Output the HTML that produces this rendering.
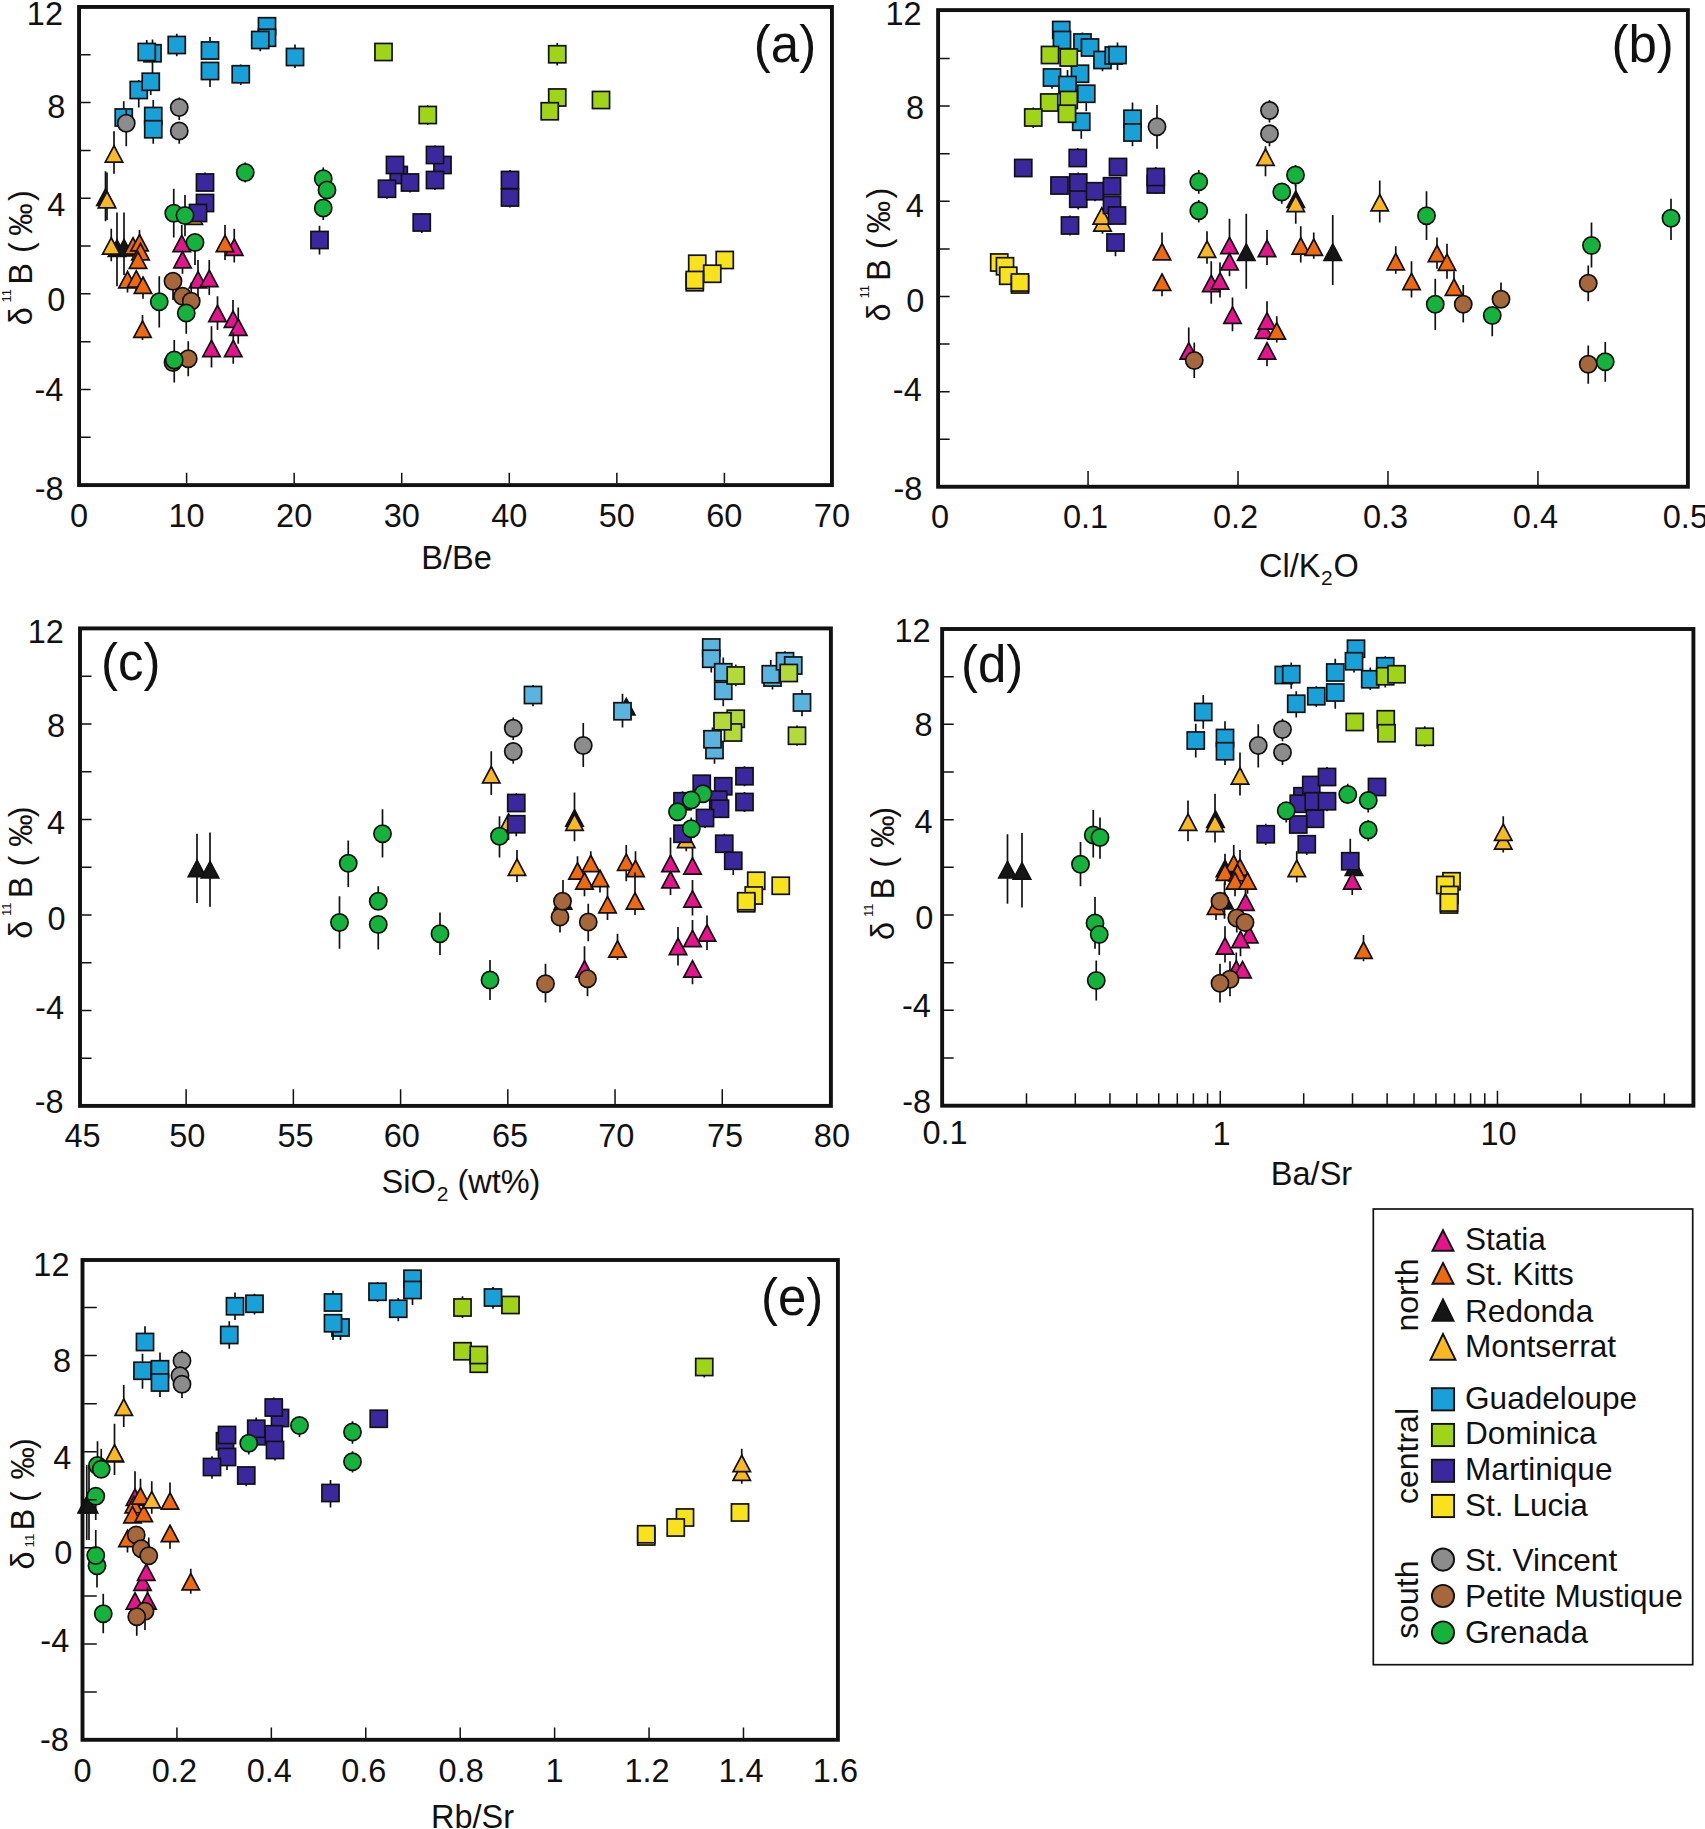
<!DOCTYPE html>
<html lang="en"><head><meta charset="utf-8"><title>Boron isotopes, Lesser Antilles</title>
<style>html,body{margin:0;padding:0;background:#fff}body{width:1705px;height:1829px;overflow:hidden}svg{display:block}text{font-family:"Liberation Sans",Arial,Helvetica,sans-serif;fill:#111}</style></head><body>
<svg width="1705" height="1829" viewBox="0 0 1705 1829">
<rect width="1705" height="1829" fill="#fff"/>
<g id="panel-a">
<g stroke="#111" stroke-width="1.7" stroke-linejoin="miter">
<path d="M105.5 171.25V221.25" stroke-width="1.7"/>
<path d="M105.5 189L114.2 205.35L96.8 205.35Z" fill="#161616"/>
<path d="M117 212.5V286.25" stroke-width="1.7"/>
<path d="M117 240L125.7 256.35L108.3 256.35Z" fill="#161616"/>
<path d="M124 212.5V275" stroke-width="1.7"/>
<path d="M124 239.5L132.7 255.85L115.3 255.85Z" fill="#161616"/>
<path d="M181.75 225V243.75" stroke-width="1.7"/>
<path d="M181.75 235.25L190.45 251.6L173.05 251.6Z" fill="#e5148c"/>
<path d="M182.5 260V273.75" stroke-width="1.7"/>
<path d="M182.5 251.5L191.2 267.85L173.8 267.85Z" fill="#e5148c"/>
<path d="M198 260V297.5" stroke-width="1.7"/>
<path d="M198 271.5L206.7 287.85L189.3 287.85Z" fill="#e5148c"/>
<path d="M209.25 260V295" stroke-width="1.7"/>
<path d="M209.25 270.25L217.95 286.6L200.55 286.6Z" fill="#e5148c"/>
<path d="M217.5 296.25V330" stroke-width="1.7"/>
<path d="M217.5 305.25L226.2 321.6L208.8 321.6Z" fill="#e5148c"/>
<path d="M233 300V319.5" stroke-width="1.7"/>
<path d="M233 311L241.7 327.35L224.3 327.35Z" fill="#e5148c"/>
<path d="M238.25 307.5V343.75" stroke-width="1.7"/>
<path d="M238.25 319L246.95 335.35L229.55 335.35Z" fill="#e5148c"/>
<path d="M211.5 326.25V367.5" stroke-width="1.7"/>
<path d="M211.5 340.25L220.2 356.6L202.8 356.6Z" fill="#e5148c"/>
<path d="M233.25 332.5V363.75" stroke-width="1.7"/>
<path d="M233.25 340.25L241.95 356.6L224.55 356.6Z" fill="#e5148c"/>
<path d="M234.25 228.75V262.5" stroke-width="1.7"/>
<path d="M234.25 239L242.95 255.35L225.55 255.35Z" fill="#e5148c"/>
<path d="M133 237.75L141.7 254.1L124.3 254.1Z" fill="#f0690f"/>
<path d="M139.5 230V243" stroke-width="1.7"/>
<path d="M139.5 234.5L148.2 250.85L130.8 250.85Z" fill="#f0690f"/>
<path d="M140.5 243.5L149.2 259.85L131.8 259.85Z" fill="#f0690f"/>
<path d="M138 252L146.7 268.35L129.3 268.35Z" fill="#f0690f"/>
<path d="M127.5 280V292.5" stroke-width="1.7"/>
<path d="M127.5 271.5L136.2 287.85L118.8 287.85Z" fill="#f0690f"/>
<path d="M136.25 279.25V292.5" stroke-width="1.7"/>
<path d="M136.25 270.75L144.95 287.1L127.55 287.1Z" fill="#f0690f"/>
<path d="M143 285.5V298.75" stroke-width="1.7"/>
<path d="M143 277L151.7 293.35L134.3 293.35Z" fill="#f0690f"/>
<path d="M142.5 315V340" stroke-width="1.7"/>
<path d="M142.5 321L151.2 337.35L133.8 337.35Z" fill="#f0690f"/>
<path d="M225 225V260" stroke-width="1.7"/>
<path d="M225 235.25L233.7 251.6L216.3 251.6Z" fill="#f0690f"/>
<path d="M114 131.25V173.75" stroke-width="1.7"/>
<path d="M114 145.75L122.7 162.1L105.3 162.1Z" fill="#fbb822"/>
<path d="M107 172.5V220" stroke-width="1.7"/>
<path d="M107 191.5L115.7 207.85L98.3 207.85Z" fill="#fbb822"/>
<path d="M111.25 228.75V261.25" stroke-width="1.7"/>
<path d="M111.25 237.75L119.95 254.1L102.55 254.1Z" fill="#fbb822"/>
<path d="M193.75 208L202.45 224.35L185.05 224.35Z" fill="#fbb822"/>
<rect x="688.7" y="255.2" width="17.1" height="17.1" fill="#f8e21c"/>
<rect x="716.2" y="251.45" width="17.1" height="17.1" fill="#f8e21c"/>
<rect x="703.7" y="265.2" width="17.1" height="17.1" fill="#f8e21c"/>
<rect x="686.2" y="273.7" width="17.1" height="17.1" fill="#f8e21c"/>
<rect x="686.2" y="271.45" width="17.1" height="17.1" fill="#f8e21c"/>
<rect x="258.45" y="17.7" width="17.1" height="17.1" fill="#18a0d8"/>
<rect x="258.45" y="29.2" width="17.1" height="17.1" fill="#18a0d8"/>
<path d="M260.25 40V51.25" stroke-width="1.7"/>
<rect x="251.7" y="31.45" width="17.1" height="17.1" fill="#18a0d8"/>
<path d="M152.5 39.5V75" stroke-width="1.7"/>
<rect x="143.95" y="44.7" width="17.1" height="17.1" fill="#18a0d8"/>
<path d="M146.75 40V52" stroke-width="1.7"/>
<rect x="138.2" y="43.45" width="17.1" height="17.1" fill="#18a0d8"/>
<path d="M176.75 33.75V56.25" stroke-width="1.7"/>
<rect x="168.2" y="36.45" width="17.1" height="17.1" fill="#18a0d8"/>
<path d="M210 37V50.5" stroke-width="1.7"/>
<rect x="201.45" y="41.95" width="17.1" height="17.1" fill="#18a0d8"/>
<path d="M210 71V87" stroke-width="1.7"/>
<rect x="201.45" y="62.45" width="17.1" height="17.1" fill="#18a0d8"/>
<path d="M240.75 64.5V85" stroke-width="1.7"/>
<rect x="232.2" y="65.7" width="17.1" height="17.1" fill="#18a0d8"/>
<path d="M295 44.5V68" stroke-width="1.7"/>
<rect x="286.45" y="48.45" width="17.1" height="17.1" fill="#18a0d8"/>
<path d="M138.75 80V107.5" stroke-width="1.7"/>
<rect x="130.2" y="81.45" width="17.1" height="17.1" fill="#18a0d8"/>
<path d="M150.75 81.75V95" stroke-width="1.7"/>
<rect x="142.2" y="73.2" width="17.1" height="17.1" fill="#18a0d8"/>
<path d="M123.75 101.25V130" stroke-width="1.7"/>
<rect x="115.2" y="108.95" width="17.1" height="17.1" fill="#18a0d8"/>
<path d="M153.25 100V116" stroke-width="1.7"/>
<rect x="144.7" y="107.45" width="17.1" height="17.1" fill="#18a0d8"/>
<path d="M153.25 129.25V143.75" stroke-width="1.7"/>
<rect x="144.7" y="120.7" width="17.1" height="17.1" fill="#18a0d8"/>
<rect x="374.95" y="43.45" width="17.1" height="17.1" fill="#a0d416"/>
<path d="M427.75 105V125" stroke-width="1.7"/>
<rect x="419.2" y="106.45" width="17.1" height="17.1" fill="#a0d416"/>
<path d="M557.25 43V65.5" stroke-width="1.7"/>
<rect x="548.7" y="45.7" width="17.1" height="17.1" fill="#a0d416"/>
<rect x="548.7" y="88.95" width="17.1" height="17.1" fill="#a0d416"/>
<rect x="541.2" y="102.7" width="17.1" height="17.1" fill="#a0d416"/>
<rect x="592.45" y="91.45" width="17.1" height="17.1" fill="#a0d416"/>
<path d="M205 172.5V182.5" stroke-width="1.7"/>
<rect x="196.45" y="173.95" width="17.1" height="17.1" fill="#3c289e"/>
<rect x="196.45" y="194.45" width="17.1" height="17.1" fill="#3c289e"/>
<rect x="189.45" y="204.45" width="17.1" height="17.1" fill="#3c289e"/>
<path d="M319.5 225.75V254.5" stroke-width="1.7"/>
<rect x="310.95" y="231.45" width="17.1" height="17.1" fill="#3c289e"/>
<rect x="390.2" y="166.45" width="17.1" height="17.1" fill="#3c289e"/>
<rect x="386.45" y="156.45" width="17.1" height="17.1" fill="#3c289e"/>
<path d="M410 182.5V192.5" stroke-width="1.7"/>
<rect x="401.45" y="173.95" width="17.1" height="17.1" fill="#3c289e"/>
<path d="M387 188.75V198.75" stroke-width="1.7"/>
<rect x="378.45" y="180.2" width="17.1" height="17.1" fill="#3c289e"/>
<rect x="433.95" y="156.45" width="17.1" height="17.1" fill="#3c289e"/>
<path d="M435 145.5V155" stroke-width="1.7"/>
<rect x="426.45" y="146.45" width="17.1" height="17.1" fill="#3c289e"/>
<path d="M435 180V190" stroke-width="1.7"/>
<rect x="426.45" y="171.45" width="17.1" height="17.1" fill="#3c289e"/>
<path d="M421.75 213V233" stroke-width="1.7"/>
<rect x="413.2" y="213.95" width="17.1" height="17.1" fill="#3c289e"/>
<path d="M510 170V180" stroke-width="1.7"/>
<rect x="501.45" y="171.45" width="17.1" height="17.1" fill="#3c289e"/>
<path d="M510 197.5V207.5" stroke-width="1.7"/>
<rect x="501.45" y="188.95" width="17.1" height="17.1" fill="#3c289e"/>
<path d="M179.25 97.5V120" stroke-width="1.7"/>
<circle cx="179.25" cy="107.5" r="8.6" fill="#8c8c8c"/>
<path d="M179.25 131V143.75" stroke-width="1.7"/>
<circle cx="179.25" cy="131" r="8.6" fill="#8c8c8c"/>
<path d="M126.25 110V146.25" stroke-width="1.7"/>
<circle cx="126.25" cy="123.25" r="8.6" fill="#8c8c8c"/>
<path d="M173 281.25V300" stroke-width="1.7"/>
<circle cx="173" cy="281.25" r="8.6" fill="#a6683a"/>
<circle cx="182.5" cy="296.25" r="8.6" fill="#a6683a"/>
<path d="M191.25 282.5V301.25" stroke-width="1.7"/>
<circle cx="191.25" cy="301.25" r="8.6" fill="#a6683a"/>
<circle cx="173" cy="362.5" r="8.6" fill="#a6683a"/>
<path d="M188.25 341.25V376.25" stroke-width="1.7"/>
<circle cx="188.25" cy="358.75" r="8.6" fill="#a6683a"/>
<path d="M245.25 162.5V182.5" stroke-width="1.7"/>
<circle cx="245.25" cy="172.5" r="8.6" fill="#14b43c"/>
<path d="M323.25 167.5V178.75" stroke-width="1.7"/>
<circle cx="323.25" cy="178.75" r="8.6" fill="#14b43c"/>
<circle cx="327" cy="190" r="8.6" fill="#14b43c"/>
<path d="M323.25 208V220" stroke-width="1.7"/>
<circle cx="323.25" cy="208" r="8.6" fill="#14b43c"/>
<path d="M173.75 188.75V237.5" stroke-width="1.7"/>
<circle cx="173.75" cy="213.25" r="8.6" fill="#14b43c"/>
<path d="M185 195V236.25" stroke-width="1.7"/>
<circle cx="185" cy="215.5" r="8.6" fill="#14b43c"/>
<path d="M195 242.5V265" stroke-width="1.7"/>
<circle cx="195" cy="242.5" r="8.6" fill="#14b43c"/>
<path d="M159.25 276.25V327.5" stroke-width="1.7"/>
<circle cx="159.25" cy="301.75" r="8.6" fill="#14b43c"/>
<path d="M186.25 313V333.75" stroke-width="1.7"/>
<circle cx="186.25" cy="313" r="8.6" fill="#14b43c"/>
<path d="M174.25 340V382.5" stroke-width="1.7"/>
<circle cx="174.25" cy="360" r="8.6" fill="#14b43c"/>
</g>
<path fill="none" stroke="#111" stroke-width="1.5" d="M80.7 54.77h9.9M80.7 102.58h9.9M80.7 150.4h9.9M80.7 198.21h9.9M80.7 246.03h9.9M80.7 293.84h9.9M80.7 341.66h9.9M80.7 389.47h9.9M80.7 437.29h9.9M186.61 483.45v-10.6M294.16 483.45v-10.6M401.72 483.45v-10.6M509.28 483.45v-10.6M616.84 483.45v-10.6M724.39 483.45v-10.6"/>
<rect x="79.05" y="6.95" width="752.9" height="478.15" fill="none" stroke="#111" stroke-width="3.9"/>
</g>
<g id="panel-b">
<g stroke="#111" stroke-width="1.7" stroke-linejoin="miter">
<path d="M1295.75 185V199.5" stroke-width="1.7"/>
<path d="M1295.75 191L1304.45 207.35L1287.05 207.35Z" fill="#161616"/>
<path d="M1246.25 213.75V288.75" stroke-width="1.7"/>
<path d="M1246.25 244L1254.95 260.35L1237.55 260.35Z" fill="#161616"/>
<path d="M1332.75 215V285" stroke-width="1.7"/>
<path d="M1332.75 244L1341.45 260.35L1324.05 260.35Z" fill="#161616"/>
<path d="M1229.5 218.75V245.75" stroke-width="1.7"/>
<path d="M1229.5 237.25L1238.2 253.6L1220.8 253.6Z" fill="#e5148c"/>
<path d="M1229.5 262V276.25" stroke-width="1.7"/>
<path d="M1229.5 253.5L1238.2 269.85L1220.8 269.85Z" fill="#e5148c"/>
<path d="M1211.25 261.25V303.75" stroke-width="1.7"/>
<path d="M1211.25 275.25L1219.95 291.6L1202.55 291.6Z" fill="#e5148c"/>
<path d="M1220 262.5V297.5" stroke-width="1.7"/>
<path d="M1220 272.75L1228.7 289.1L1211.3 289.1Z" fill="#e5148c"/>
<path d="M1232.5 297.5V331.25" stroke-width="1.7"/>
<path d="M1232.5 307L1241.2 323.35L1223.8 323.35Z" fill="#e5148c"/>
<path d="M1267 230V265" stroke-width="1.7"/>
<path d="M1267 240.25L1275.7 256.6L1258.3 256.6Z" fill="#e5148c"/>
<path d="M1263.75 322L1272.45 338.35L1255.05 338.35Z" fill="#e5148c"/>
<path d="M1267 301.25V321.25" stroke-width="1.7"/>
<path d="M1267 312.75L1275.7 329.1L1258.3 329.1Z" fill="#e5148c"/>
<path d="M1267 351.25V366.25" stroke-width="1.7"/>
<path d="M1267 342.75L1275.7 359.1L1258.3 359.1Z" fill="#e5148c"/>
<path d="M1188.75 327.5V351.25" stroke-width="1.7"/>
<path d="M1188.75 342.75L1197.45 359.1L1180.05 359.1Z" fill="#e5148c"/>
<path d="M1162 232.5V252" stroke-width="1.7"/>
<path d="M1162 243.5L1170.7 259.85L1153.3 259.85Z" fill="#f0690f"/>
<path d="M1162 282.5V296.25" stroke-width="1.7"/>
<path d="M1162 274L1170.7 290.35L1153.3 290.35Z" fill="#f0690f"/>
<path d="M1300.75 226.25V262.5" stroke-width="1.7"/>
<path d="M1300.75 237.75L1309.45 254.1L1292.05 254.1Z" fill="#f0690f"/>
<path d="M1313.75 232.5V258.75" stroke-width="1.7"/>
<path d="M1313.75 239L1322.45 255.35L1305.05 255.35Z" fill="#f0690f"/>
<path d="M1276.75 316.25V342.5" stroke-width="1.7"/>
<path d="M1276.75 322.75L1285.45 339.1L1268.05 339.1Z" fill="#f0690f"/>
<path d="M1395.75 246.25V273.75" stroke-width="1.7"/>
<path d="M1395.75 253.5L1404.45 269.85L1387.05 269.85Z" fill="#f0690f"/>
<path d="M1411.5 261.25V297.5" stroke-width="1.7"/>
<path d="M1411.5 273.25L1420.2 289.6L1402.8 289.6Z" fill="#f0690f"/>
<path d="M1437 237.5V268.75" stroke-width="1.7"/>
<path d="M1437 245.25L1445.7 261.6L1428.3 261.6Z" fill="#f0690f"/>
<path d="M1447 243.75V278.75" stroke-width="1.7"/>
<path d="M1447 254L1455.7 270.35L1438.3 270.35Z" fill="#f0690f"/>
<path d="M1454 271.25V287.5" stroke-width="1.7"/>
<path d="M1454 279L1462.7 295.35L1445.3 295.35Z" fill="#f0690f"/>
<path d="M1102.5 223.25V233.75" stroke-width="1.7"/>
<path d="M1102.5 214.75L1111.2 231.1L1093.8 231.1Z" fill="#fbb822"/>
<path d="M1101.75 207.75L1110.45 224.1L1093.05 224.1Z" fill="#fbb822"/>
<path d="M1207 231.25V263.75" stroke-width="1.7"/>
<path d="M1207 241L1215.7 257.35L1198.3 257.35Z" fill="#fbb822"/>
<path d="M1265.5 146.25V176.25" stroke-width="1.7"/>
<path d="M1265.5 149L1274.2 165.35L1256.8 165.35Z" fill="#fbb822"/>
<path d="M1295.75 203.75V223.75" stroke-width="1.7"/>
<path d="M1295.75 195.25L1304.45 211.6L1287.05 211.6Z" fill="#fbb822"/>
<path d="M1379.75 180.5V222.5" stroke-width="1.7"/>
<path d="M1379.75 194.5L1388.45 210.85L1371.05 210.85Z" fill="#fbb822"/>
<rect x="990.7" y="253.95" width="17.1" height="17.1" fill="#f8e21c"/>
<rect x="996.45" y="257.7" width="17.1" height="17.1" fill="#f8e21c"/>
<rect x="999.7" y="267.2" width="17.1" height="17.1" fill="#f8e21c"/>
<rect x="1011.45" y="275.95" width="17.1" height="17.1" fill="#f8e21c"/>
<rect x="1011.45" y="273.95" width="17.1" height="17.1" fill="#f8e21c"/>
<rect x="1052.7" y="21.45" width="17.1" height="17.1" fill="#18a0d8"/>
<rect x="1053.45" y="31.45" width="17.1" height="17.1" fill="#18a0d8"/>
<path d="M1082.5 32.5V42.5" stroke-width="1.7"/>
<rect x="1073.95" y="33.95" width="17.1" height="17.1" fill="#18a0d8"/>
<rect x="1081.45" y="38.95" width="17.1" height="17.1" fill="#18a0d8"/>
<path d="M1102.5 60V71.25" stroke-width="1.7"/>
<rect x="1093.95" y="51.45" width="17.1" height="17.1" fill="#18a0d8"/>
<rect x="1105.2" y="46.95" width="17.1" height="17.1" fill="#18a0d8"/>
<path d="M1117.5 42.5V70" stroke-width="1.7"/>
<rect x="1108.95" y="46.45" width="17.1" height="17.1" fill="#18a0d8"/>
<path d="M1052 77.5V88.75" stroke-width="1.7"/>
<rect x="1043.45" y="68.95" width="17.1" height="17.1" fill="#18a0d8"/>
<rect x="1071.45" y="65.2" width="17.1" height="17.1" fill="#18a0d8"/>
<path d="M1067.5 70V85" stroke-width="1.7"/>
<rect x="1058.95" y="76.45" width="17.1" height="17.1" fill="#18a0d8"/>
<path d="M1086.25 93.75V111.25" stroke-width="1.7"/>
<rect x="1077.7" y="85.2" width="17.1" height="17.1" fill="#18a0d8"/>
<path d="M1081.25 121.75V138.75" stroke-width="1.7"/>
<rect x="1072.7" y="113.2" width="17.1" height="17.1" fill="#18a0d8"/>
<path d="M1132.5 102.5V118.75" stroke-width="1.7"/>
<rect x="1123.95" y="110.2" width="17.1" height="17.1" fill="#18a0d8"/>
<path d="M1132.5 132.5V146.25" stroke-width="1.7"/>
<rect x="1123.95" y="123.95" width="17.1" height="17.1" fill="#18a0d8"/>
<rect x="1041.45" y="46.45" width="17.1" height="17.1" fill="#a0d416"/>
<rect x="1060.2" y="48.95" width="17.1" height="17.1" fill="#a0d416"/>
<rect x="1040.7" y="93.95" width="17.1" height="17.1" fill="#a0d416"/>
<rect x="1060.2" y="91.45" width="17.1" height="17.1" fill="#a0d416"/>
<rect x="1058.45" y="105.2" width="17.1" height="17.1" fill="#a0d416"/>
<path d="M1033.25 107.5V128" stroke-width="1.7"/>
<rect x="1024.7" y="108.95" width="17.1" height="17.1" fill="#a0d416"/>
<rect x="1014.7" y="159.45" width="17.1" height="17.1" fill="#3c289e"/>
<path d="M1077.75 148V158" stroke-width="1.7"/>
<rect x="1069.2" y="149.45" width="17.1" height="17.1" fill="#3c289e"/>
<rect x="1109.45" y="158.45" width="17.1" height="17.1" fill="#3c289e"/>
<rect x="1050.95" y="176.95" width="17.1" height="17.1" fill="#3c289e"/>
<path d="M1078.25 198.75V209.5" stroke-width="1.7"/>
<rect x="1069.7" y="190.2" width="17.1" height="17.1" fill="#3c289e"/>
<path d="M1078.25 172.5V182.5" stroke-width="1.7"/>
<rect x="1069.7" y="173.95" width="17.1" height="17.1" fill="#3c289e"/>
<path d="M1095 191.25V201.25" stroke-width="1.7"/>
<rect x="1086.45" y="182.7" width="17.1" height="17.1" fill="#3c289e"/>
<rect x="1103.45" y="177.7" width="17.1" height="17.1" fill="#3c289e"/>
<rect x="1103.45" y="196.45" width="17.1" height="17.1" fill="#3c289e"/>
<rect x="1108.45" y="206.95" width="17.1" height="17.1" fill="#3c289e"/>
<path d="M1070 215.5V235.5" stroke-width="1.7"/>
<rect x="1061.45" y="216.95" width="17.1" height="17.1" fill="#3c289e"/>
<path d="M1115.5 242.5V256.25" stroke-width="1.7"/>
<rect x="1106.95" y="233.95" width="17.1" height="17.1" fill="#3c289e"/>
<path d="M1155.75 184.5V193.75" stroke-width="1.7"/>
<rect x="1147.2" y="175.95" width="17.1" height="17.1" fill="#3c289e"/>
<path d="M1155.75 167V177" stroke-width="1.7"/>
<rect x="1147.2" y="168.45" width="17.1" height="17.1" fill="#3c289e"/>
<path d="M1157 105V148.75" stroke-width="1.7"/>
<circle cx="1157" cy="126.75" r="8.6" fill="#8c8c8c"/>
<path d="M1269.5 100V122.5" stroke-width="1.7"/>
<circle cx="1269.5" cy="110.5" r="8.6" fill="#8c8c8c"/>
<path d="M1269.5 133.75V146.25" stroke-width="1.7"/>
<circle cx="1269.5" cy="133.75" r="8.6" fill="#8c8c8c"/>
<path d="M1194.25 342.5V378" stroke-width="1.7"/>
<circle cx="1194.25" cy="360.5" r="8.6" fill="#a6683a"/>
<path d="M1463.25 285V322.5" stroke-width="1.7"/>
<circle cx="1463.25" cy="304.25" r="8.6" fill="#a6683a"/>
<path d="M1501 282.5V299.25" stroke-width="1.7"/>
<circle cx="1501" cy="299.25" r="8.6" fill="#a6683a"/>
<path d="M1588.25 265.5V301.25" stroke-width="1.7"/>
<circle cx="1588.25" cy="283.25" r="8.6" fill="#a6683a"/>
<path d="M1588.25 345.5V383.75" stroke-width="1.7"/>
<circle cx="1588.25" cy="364.25" r="8.6" fill="#a6683a"/>
<path d="M1198.75 170V193.75" stroke-width="1.7"/>
<circle cx="1198.75" cy="181.75" r="8.6" fill="#14b43c"/>
<path d="M1198.75 200V222.5" stroke-width="1.7"/>
<circle cx="1198.75" cy="210.75" r="8.6" fill="#14b43c"/>
<path d="M1281.75 192V203.75" stroke-width="1.7"/>
<circle cx="1281.75" cy="192" r="8.6" fill="#14b43c"/>
<path d="M1295.5 165V186.25" stroke-width="1.7"/>
<circle cx="1295.5" cy="175" r="8.6" fill="#14b43c"/>
<path d="M1426.5 191.25V240" stroke-width="1.7"/>
<circle cx="1426.5" cy="215.75" r="8.6" fill="#14b43c"/>
<path d="M1435.25 278.75V330" stroke-width="1.7"/>
<circle cx="1435.25" cy="304.25" r="8.6" fill="#14b43c"/>
<path d="M1492.25 315.5V336.25" stroke-width="1.7"/>
<circle cx="1492.25" cy="315.5" r="8.6" fill="#14b43c"/>
<path d="M1591.5 222.5V267.5" stroke-width="1.7"/>
<circle cx="1591.5" cy="245.5" r="8.6" fill="#14b43c"/>
<path d="M1671 198.75V240" stroke-width="1.7"/>
<circle cx="1671" cy="218.25" r="8.6" fill="#14b43c"/>
<path d="M1605.25 342V381.75" stroke-width="1.7"/>
<circle cx="1605.25" cy="361.75" r="8.6" fill="#14b43c"/>
</g>
<path fill="none" stroke="#111" stroke-width="1.5" d="M939.75 58.5h9.9M939.75 106.1h9.9M939.75 153.7h9.9M939.75 201.3h9.9M939.75 248.9h9.9M939.75 296.5h9.9M939.75 344.1h9.9M939.75 391.7h9.9M939.75 439.3h9.9M1088.06 485.1v-14.1M1238.02 485.1v-14.1M1387.98 485.1v-14.1M1537.94 485.1v-14.1"/>
<rect x="938.1" y="10.1" width="749.8" height="476.65" fill="none" stroke="#111" stroke-width="3.9"/>
</g>
<g id="panel-c">
<g stroke="#111" stroke-width="1.7" stroke-linejoin="miter">
<path d="M197 833.75V903" stroke-width="1.7"/>
<path d="M197 860.25L205.7 876.6L188.3 876.6Z" fill="#161616"/>
<path d="M210 832.5V906.75" stroke-width="1.7"/>
<path d="M210 861.5L218.7 877.85L201.3 877.85Z" fill="#161616"/>
<path d="M574.5 809.75L583.2 826.1L565.8 826.1Z" fill="#161616"/>
<path d="M563 880V901.25" stroke-width="1.7"/>
<path d="M563 892.75L571.7 909.1L554.3 909.1Z" fill="#161616"/>
<path d="M626.25 698.5L634.95 714.85L617.55 714.85Z" fill="#161616"/>
<path d="M670.5 837.5V863.75" stroke-width="1.7"/>
<path d="M670.5 855.25L679.2 871.6L661.8 871.6Z" fill="#e5148c"/>
<path d="M670.5 880V895" stroke-width="1.7"/>
<path d="M670.5 871.5L679.2 887.85L661.8 887.85Z" fill="#e5148c"/>
<path d="M692.5 847.5V866.25" stroke-width="1.7"/>
<path d="M692.5 857.75L701.2 874.1L683.8 874.1Z" fill="#e5148c"/>
<path d="M692.5 880V915.5" stroke-width="1.7"/>
<path d="M692.5 890.75L701.2 907.1L683.8 907.1Z" fill="#e5148c"/>
<path d="M707 915.5V950" stroke-width="1.7"/>
<path d="M707 924.75L715.7 941.1L698.3 941.1Z" fill="#e5148c"/>
<path d="M678 927V965.5" stroke-width="1.7"/>
<path d="M678 938.25L686.7 954.6L669.3 954.6Z" fill="#e5148c"/>
<path d="M692.5 920V938.75" stroke-width="1.7"/>
<path d="M692.5 930.25L701.2 946.6L683.8 946.6Z" fill="#e5148c"/>
<path d="M692.5 969.25V984.25" stroke-width="1.7"/>
<path d="M692.5 960.75L701.2 977.1L683.8 977.1Z" fill="#e5148c"/>
<path d="M584.5 946.25V969.25" stroke-width="1.7"/>
<path d="M584.5 960.75L593.2 977.1L575.8 977.1Z" fill="#e5148c"/>
<path d="M590.75 851.25V863.75" stroke-width="1.7"/>
<path d="M590.75 855.25L599.45 871.6L582.05 871.6Z" fill="#f0690f"/>
<path d="M577.5 856.25V871.25" stroke-width="1.7"/>
<path d="M577.5 862.75L586.2 879.1L568.8 879.1Z" fill="#f0690f"/>
<path d="M584.5 881.25V896.25" stroke-width="1.7"/>
<path d="M584.5 872.75L593.2 889.1L575.8 889.1Z" fill="#f0690f"/>
<path d="M600 878.75V892.5" stroke-width="1.7"/>
<path d="M600 870.25L608.7 886.6L591.3 886.6Z" fill="#f0690f"/>
<path d="M626.25 845V881.25" stroke-width="1.7"/>
<path d="M626.25 854L634.95 870.35L617.55 870.35Z" fill="#f0690f"/>
<path d="M635.5 851.25V868.75" stroke-width="1.7"/>
<path d="M635.5 860.25L644.2 876.6L626.8 876.6Z" fill="#f0690f"/>
<path d="M607.5 885V920" stroke-width="1.7"/>
<path d="M607.5 896.5L616.2 912.85L598.8 912.85Z" fill="#f0690f"/>
<path d="M635 872.5V915" stroke-width="1.7"/>
<path d="M635 892.75L643.7 909.1L626.3 909.1Z" fill="#f0690f"/>
<path d="M617.5 933.75V960" stroke-width="1.7"/>
<path d="M617.5 940.75L626.2 957.1L608.8 957.1Z" fill="#f0690f"/>
<path d="M491.25 751.25V795" stroke-width="1.7"/>
<path d="M491.25 766.5L499.95 782.85L482.55 782.85Z" fill="#fbb822"/>
<path d="M574.5 792.5V841.25" stroke-width="1.7"/>
<path d="M574.5 814L583.2 830.35L565.8 830.35Z" fill="#fbb822"/>
<path d="M517 850V882" stroke-width="1.7"/>
<path d="M517 859L525.7 875.35L508.3 875.35Z" fill="#fbb822"/>
<path d="M686.25 839.75V851.25" stroke-width="1.7"/>
<path d="M686.25 831.25L694.95 847.6L677.55 847.6Z" fill="#fbb822"/>
<path d="M508.5 822.5V840" stroke-width="1.7"/>
<path d="M508.5 814L517.2 830.35L499.8 830.35Z" fill="#fbb822"/>
<rect x="747.7" y="872.2" width="17.1" height="17.1" fill="#f8e21c"/>
<rect x="772.2" y="877.2" width="17.1" height="17.1" fill="#f8e21c"/>
<rect x="745.2" y="886.95" width="17.1" height="17.1" fill="#f8e21c"/>
<rect x="737.7" y="894.7" width="17.1" height="17.1" fill="#f8e21c"/>
<rect x="737.7" y="892.7" width="17.1" height="17.1" fill="#f8e21c"/>
<rect x="702.7" y="638.95" width="17.1" height="17.1" fill="#5ab4e0"/>
<path d="M711.25 658.75V672.5" stroke-width="1.7"/>
<rect x="702.7" y="650.2" width="17.1" height="17.1" fill="#5ab4e0"/>
<path d="M723.25 657.5V672.25" stroke-width="1.7"/>
<rect x="714.7" y="663.7" width="17.1" height="17.1" fill="#5ab4e0"/>
<path d="M723.25 690.75V706.25" stroke-width="1.7"/>
<rect x="714.7" y="682.2" width="17.1" height="17.1" fill="#5ab4e0"/>
<path d="M772.5 677.5V689.5" stroke-width="1.7"/>
<rect x="763.95" y="668.95" width="17.1" height="17.1" fill="#5ab4e0"/>
<path d="M770.75 660V674.25" stroke-width="1.7"/>
<rect x="762.2" y="665.7" width="17.1" height="17.1" fill="#5ab4e0"/>
<path d="M785 651.25V661.25" stroke-width="1.7"/>
<rect x="776.45" y="652.7" width="17.1" height="17.1" fill="#5ab4e0"/>
<rect x="784.7" y="656.95" width="17.1" height="17.1" fill="#5ab4e0"/>
<path d="M802 690V716.25" stroke-width="1.7"/>
<rect x="793.45" y="693.95" width="17.1" height="17.1" fill="#5ab4e0"/>
<path d="M533 685V706.25" stroke-width="1.7"/>
<rect x="524.45" y="686.45" width="17.1" height="17.1" fill="#5ab4e0"/>
<path d="M622.5 693.75V727.5" stroke-width="1.7"/>
<rect x="613.95" y="702.7" width="17.1" height="17.1" fill="#5ab4e0"/>
<path d="M714.5 750V763.75" stroke-width="1.7"/>
<rect x="705.95" y="741.45" width="17.1" height="17.1" fill="#5ab4e0"/>
<path d="M712.5 727.5V739.25" stroke-width="1.7"/>
<rect x="703.95" y="730.7" width="17.1" height="17.1" fill="#5ab4e0"/>
<path d="M735.75 664.5V686.25" stroke-width="1.7"/>
<rect x="727.2" y="666.95" width="17.1" height="17.1" fill="#b4da3a"/>
<rect x="780.2" y="664.45" width="17.1" height="17.1" fill="#b4da3a"/>
<rect x="727.2" y="710.2" width="17.1" height="17.1" fill="#b4da3a"/>
<rect x="724.45" y="723.95" width="17.1" height="17.1" fill="#b4da3a"/>
<rect x="713.95" y="712.7" width="17.1" height="17.1" fill="#b4da3a"/>
<path d="M797 725.5V745.75" stroke-width="1.7"/>
<rect x="788.45" y="727.2" width="17.1" height="17.1" fill="#b4da3a"/>
<path d="M516.25 793V803" stroke-width="1.7"/>
<rect x="507.7" y="794.45" width="17.1" height="17.1" fill="#3c289e"/>
<path d="M516.25 824.25V836.25" stroke-width="1.7"/>
<rect x="507.7" y="815.7" width="17.1" height="17.1" fill="#3c289e"/>
<path d="M744.5 766.25V786.25" stroke-width="1.7"/>
<rect x="735.95" y="767.7" width="17.1" height="17.1" fill="#3c289e"/>
<path d="M744.5 792V812" stroke-width="1.7"/>
<rect x="735.95" y="793.45" width="17.1" height="17.1" fill="#3c289e"/>
<rect x="693.2" y="775.2" width="17.1" height="17.1" fill="#3c289e"/>
<rect x="714.7" y="777.7" width="17.1" height="17.1" fill="#3c289e"/>
<rect x="709.7" y="791.2" width="17.1" height="17.1" fill="#3c289e"/>
<rect x="711.45" y="800.2" width="17.1" height="17.1" fill="#3c289e"/>
<path d="M682.5 791.25V801.25" stroke-width="1.7"/>
<rect x="673.95" y="792.7" width="17.1" height="17.1" fill="#3c289e"/>
<path d="M705 818V828" stroke-width="1.7"/>
<rect x="696.45" y="809.45" width="17.1" height="17.1" fill="#3c289e"/>
<rect x="673.95" y="825.2" width="17.1" height="17.1" fill="#3c289e"/>
<path d="M724.25 833.75V843.75" stroke-width="1.7"/>
<rect x="715.7" y="835.2" width="17.1" height="17.1" fill="#3c289e"/>
<path d="M733.25 860.75V875" stroke-width="1.7"/>
<rect x="724.7" y="852.2" width="17.1" height="17.1" fill="#3c289e"/>
<path d="M513.25 717.5V740" stroke-width="1.7"/>
<circle cx="513.25" cy="728.25" r="8.6" fill="#8c8c8c"/>
<path d="M513.25 751.5V763.75" stroke-width="1.7"/>
<circle cx="513.25" cy="751.5" r="8.6" fill="#8c8c8c"/>
<path d="M583.25 723V767" stroke-width="1.7"/>
<circle cx="583.25" cy="745.5" r="8.6" fill="#8c8c8c"/>
<path d="M560 917V932.5" stroke-width="1.7"/>
<circle cx="560" cy="917" r="8.6" fill="#a6683a"/>
<circle cx="562.5" cy="901.25" r="8.6" fill="#a6683a"/>
<path d="M588.25 903.75V941.25" stroke-width="1.7"/>
<circle cx="588.25" cy="922" r="8.6" fill="#a6683a"/>
<path d="M545.5 963.75V1002.5" stroke-width="1.7"/>
<circle cx="545.5" cy="983.75" r="8.6" fill="#a6683a"/>
<path d="M587.5 978.75V996.25" stroke-width="1.7"/>
<circle cx="587.5" cy="978.75" r="8.6" fill="#a6683a"/>
<path d="M382.5 809.25V857.5" stroke-width="1.7"/>
<circle cx="382.5" cy="833.75" r="8.6" fill="#14b43c"/>
<path d="M348.25 840.5V887" stroke-width="1.7"/>
<circle cx="348.25" cy="863.25" r="8.6" fill="#14b43c"/>
<path d="M378.25 886.25V901.25" stroke-width="1.7"/>
<circle cx="378.25" cy="901.25" r="8.6" fill="#14b43c"/>
<path d="M378.25 924.5V949.5" stroke-width="1.7"/>
<circle cx="378.25" cy="924.5" r="8.6" fill="#14b43c"/>
<path d="M339.5 896.25V948.75" stroke-width="1.7"/>
<circle cx="339.5" cy="922.5" r="8.6" fill="#14b43c"/>
<path d="M440 912.5V955" stroke-width="1.7"/>
<circle cx="440" cy="933.75" r="8.6" fill="#14b43c"/>
<path d="M499.5 816.25V857.5" stroke-width="1.7"/>
<circle cx="499.5" cy="836.25" r="8.6" fill="#14b43c"/>
<circle cx="703" cy="793.75" r="8.6" fill="#14b43c"/>
<circle cx="691.25" cy="800" r="8.6" fill="#14b43c"/>
<circle cx="677.5" cy="811.75" r="8.6" fill="#14b43c"/>
<path d="M691.25 817.5V828.75" stroke-width="1.7"/>
<circle cx="691.25" cy="828.75" r="8.6" fill="#14b43c"/>
<path d="M490 960V1000" stroke-width="1.7"/>
<circle cx="490" cy="980" r="8.6" fill="#14b43c"/>
</g>
<path fill="none" stroke="#111" stroke-width="1.5" d="M81.65 676.15h9.9M81.65 723.9h9.9M81.65 771.65h9.9M81.65 819.4h9.9M81.65 867.15h9.9M81.65 914.9h9.9M81.65 962.65h9.9M81.65 1010.4h9.9M81.65 1058.15h9.9M186.13 1104.25v-15.1M293.36 1104.25v-15.1M400.59 1104.25v-15.1M507.81 1104.25v-15.1M615.04 1104.25v-15.1M722.27 1104.25v-15.1"/>
<rect x="80" y="628.4" width="750.9" height="477.5" fill="none" stroke="#111" stroke-width="3.9"/>
</g>
<g id="panel-d">
<g stroke="#111" stroke-width="1.7" stroke-linejoin="miter">
<path d="M1007.5 834.25V903.75" stroke-width="1.7"/>
<path d="M1007.5 861.5L1016.2 877.85L998.8 877.85Z" fill="#161616"/>
<path d="M1022 833V907.5" stroke-width="1.7"/>
<path d="M1022 862.75L1030.7 879.1L1013.3 879.1Z" fill="#161616"/>
<path d="M1215.5 811L1224.2 827.35L1206.8 827.35Z" fill="#161616"/>
<path d="M1225 853.75V885" stroke-width="1.7"/>
<path d="M1225 860.25L1233.7 876.6L1216.3 876.6Z" fill="#161616"/>
<path d="M1224.5 882.5V918.75" stroke-width="1.7"/>
<path d="M1224.5 892.5L1233.2 908.85L1215.8 908.85Z" fill="#161616"/>
<path d="M1354 859L1362.7 875.35L1345.3 875.35Z" fill="#161616"/>
<path d="M1245.5 887.5V902.5" stroke-width="1.7"/>
<path d="M1245.5 894L1254.2 910.35L1236.8 910.35Z" fill="#e5148c"/>
<path d="M1249.25 926.5L1257.95 942.85L1240.55 942.85Z" fill="#e5148c"/>
<path d="M1240.5 939.75V956.25" stroke-width="1.7"/>
<path d="M1240.5 931.25L1249.2 947.6L1231.8 947.6Z" fill="#e5148c"/>
<path d="M1225 926.25V962.5" stroke-width="1.7"/>
<path d="M1225 937.75L1233.7 954.1L1216.3 954.1Z" fill="#e5148c"/>
<path d="M1236.25 952.5V969.25" stroke-width="1.7"/>
<path d="M1236.25 960.75L1244.95 977.1L1227.55 977.1Z" fill="#e5148c"/>
<path d="M1242.5 961.5L1251.2 977.85L1233.8 977.85Z" fill="#e5148c"/>
<path d="M1352.25 881.25V895" stroke-width="1.7"/>
<path d="M1352.25 872.75L1360.95 889.1L1343.55 889.1Z" fill="#e5148c"/>
<path d="M1233.75 845V863.75" stroke-width="1.7"/>
<path d="M1233.75 855.25L1242.45 871.6L1225.05 871.6Z" fill="#f0690f"/>
<path d="M1225 864L1233.7 880.35L1216.3 880.35Z" fill="#f0690f"/>
<path d="M1240 850V867.5" stroke-width="1.7"/>
<path d="M1240 859L1248.7 875.35L1231.3 875.35Z" fill="#f0690f"/>
<path d="M1237.5 864.5L1246.2 880.85L1228.8 880.85Z" fill="#f0690f"/>
<path d="M1235 881.25V896.25" stroke-width="1.7"/>
<path d="M1235 872.75L1243.7 889.1L1226.3 889.1Z" fill="#f0690f"/>
<path d="M1247.5 881.25V893.75" stroke-width="1.7"/>
<path d="M1247.5 872.75L1256.2 889.1L1238.8 889.1Z" fill="#f0690f"/>
<path d="M1216 906.5V920" stroke-width="1.7"/>
<path d="M1216 898L1224.7 914.35L1207.3 914.35Z" fill="#f0690f"/>
<path d="M1363.5 935V961.25" stroke-width="1.7"/>
<path d="M1363.5 942L1372.2 958.35L1354.8 958.35Z" fill="#f0690f"/>
<path d="M1240 752.5V795.5" stroke-width="1.7"/>
<path d="M1240 767.75L1248.7 784.1L1231.3 784.1Z" fill="#fbb822"/>
<path d="M1188 800.5V841.25" stroke-width="1.7"/>
<path d="M1188 814L1196.7 830.35L1179.3 830.35Z" fill="#fbb822"/>
<path d="M1215 793.75V842.5" stroke-width="1.7"/>
<path d="M1215 815.25L1223.7 831.6L1206.3 831.6Z" fill="#fbb822"/>
<path d="M1296.75 851.25V882.5" stroke-width="1.7"/>
<path d="M1296.75 860.25L1305.45 876.6L1288.05 876.6Z" fill="#fbb822"/>
<path d="M1503.25 841.25V852.5" stroke-width="1.7"/>
<path d="M1503.25 832.75L1511.95 849.1L1494.55 849.1Z" fill="#fbb822"/>
<path d="M1503.25 816.25V832.5" stroke-width="1.7"/>
<path d="M1503.25 824L1511.95 840.35L1494.55 840.35Z" fill="#fbb822"/>
<rect x="1442.95" y="872.7" width="17.1" height="17.1" fill="#f8e21c"/>
<rect x="1436.7" y="876.45" width="17.1" height="17.1" fill="#f8e21c"/>
<rect x="1440.95" y="886.45" width="17.1" height="17.1" fill="#f8e21c"/>
<rect x="1440.45" y="895.95" width="17.1" height="17.1" fill="#f8e21c"/>
<rect x="1440.45" y="893.95" width="17.1" height="17.1" fill="#f8e21c"/>
<path d="M1203.25 695V728.75" stroke-width="1.7"/>
<rect x="1194.7" y="703.45" width="17.1" height="17.1" fill="#18a0d8"/>
<path d="M1195.75 723.75V757.5" stroke-width="1.7"/>
<rect x="1187.2" y="731.95" width="17.1" height="17.1" fill="#18a0d8"/>
<path d="M1225 721.25V738" stroke-width="1.7"/>
<rect x="1216.45" y="729.45" width="17.1" height="17.1" fill="#18a0d8"/>
<path d="M1225 751.25V765" stroke-width="1.7"/>
<rect x="1216.45" y="742.7" width="17.1" height="17.1" fill="#18a0d8"/>
<rect x="1275.2" y="666.45" width="17.1" height="17.1" fill="#18a0d8"/>
<path d="M1291.25 662.5V688.75" stroke-width="1.7"/>
<rect x="1282.7" y="665.7" width="17.1" height="17.1" fill="#18a0d8"/>
<path d="M1296.25 691.25V717.5" stroke-width="1.7"/>
<rect x="1287.7" y="695.2" width="17.1" height="17.1" fill="#18a0d8"/>
<path d="M1316.25 686.25V707" stroke-width="1.7"/>
<rect x="1307.7" y="687.7" width="17.1" height="17.1" fill="#18a0d8"/>
<path d="M1335.25 658.75V672.5" stroke-width="1.7"/>
<rect x="1326.7" y="663.95" width="17.1" height="17.1" fill="#18a0d8"/>
<path d="M1335.25 692.5V708.75" stroke-width="1.7"/>
<rect x="1326.7" y="683.95" width="17.1" height="17.1" fill="#18a0d8"/>
<rect x="1347.45" y="640.2" width="17.1" height="17.1" fill="#18a0d8"/>
<path d="M1354 661.25V672.5" stroke-width="1.7"/>
<rect x="1345.45" y="652.7" width="17.1" height="17.1" fill="#18a0d8"/>
<path d="M1370.25 667.5V690" stroke-width="1.7"/>
<rect x="1361.7" y="670.7" width="17.1" height="17.1" fill="#18a0d8"/>
<path d="M1385.25 656.25V666.25" stroke-width="1.7"/>
<rect x="1376.7" y="657.7" width="17.1" height="17.1" fill="#18a0d8"/>
<path d="M1385.25 676.25V687.5" stroke-width="1.7"/>
<rect x="1376.7" y="667.7" width="17.1" height="17.1" fill="#a0d416"/>
<rect x="1387.95" y="665.7" width="17.1" height="17.1" fill="#a0d416"/>
<rect x="1346.2" y="713.45" width="17.1" height="17.1" fill="#a0d416"/>
<rect x="1377.2" y="710.7" width="17.1" height="17.1" fill="#a0d416"/>
<rect x="1377.95" y="724.7" width="17.1" height="17.1" fill="#a0d416"/>
<path d="M1424.75 726.25V747" stroke-width="1.7"/>
<rect x="1416.2" y="728.2" width="17.1" height="17.1" fill="#a0d416"/>
<path d="M1265.75 823.75V845" stroke-width="1.7"/>
<rect x="1257.2" y="825.7" width="17.1" height="17.1" fill="#3c289e"/>
<rect x="1293.95" y="787.7" width="17.1" height="17.1" fill="#3c289e"/>
<rect x="1302.7" y="776.45" width="17.1" height="17.1" fill="#3c289e"/>
<rect x="1290.2" y="795.2" width="17.1" height="17.1" fill="#3c289e"/>
<rect x="1305.2" y="792.7" width="17.1" height="17.1" fill="#3c289e"/>
<rect x="1306.45" y="810.2" width="17.1" height="17.1" fill="#3c289e"/>
<rect x="1289.7" y="815.95" width="17.1" height="17.1" fill="#3c289e"/>
<path d="M1306.75 844.25V855" stroke-width="1.7"/>
<rect x="1298.2" y="835.7" width="17.1" height="17.1" fill="#3c289e"/>
<path d="M1327 767V777" stroke-width="1.7"/>
<rect x="1318.45" y="768.45" width="17.1" height="17.1" fill="#3c289e"/>
<path d="M1327 801.25V811.25" stroke-width="1.7"/>
<rect x="1318.45" y="792.7" width="17.1" height="17.1" fill="#3c289e"/>
<rect x="1368.45" y="778.45" width="17.1" height="17.1" fill="#3c289e"/>
<path d="M1350.25 838.75V861.25" stroke-width="1.7"/>
<rect x="1341.7" y="852.7" width="17.1" height="17.1" fill="#3c289e"/>
<path d="M1258.25 724.25V767.5" stroke-width="1.7"/>
<circle cx="1258.25" cy="745.5" r="8.6" fill="#8c8c8c"/>
<path d="M1282.5 718.75V741.25" stroke-width="1.7"/>
<circle cx="1282.5" cy="729.5" r="8.6" fill="#8c8c8c"/>
<path d="M1282.5 752.5V765" stroke-width="1.7"/>
<circle cx="1282.5" cy="752.5" r="8.6" fill="#8c8c8c"/>
<circle cx="1220" cy="901.25" r="8.6" fill="#a6683a"/>
<path d="M1236.75 918V932.5" stroke-width="1.7"/>
<circle cx="1236.75" cy="918" r="8.6" fill="#a6683a"/>
<circle cx="1245" cy="922.5" r="8.6" fill="#a6683a"/>
<path d="M1230 961.25V996.25" stroke-width="1.7"/>
<circle cx="1230" cy="979.25" r="8.6" fill="#a6683a"/>
<path d="M1220 963.75V1002.5" stroke-width="1.7"/>
<circle cx="1220" cy="983.25" r="8.6" fill="#a6683a"/>
<path d="M1093.25 810V857.5" stroke-width="1.7"/>
<circle cx="1093.25" cy="835" r="8.6" fill="#14b43c"/>
<path d="M1100 817.5V858.75" stroke-width="1.7"/>
<circle cx="1100" cy="837.5" r="8.6" fill="#14b43c"/>
<path d="M1080.5 842V886.25" stroke-width="1.7"/>
<circle cx="1080.5" cy="864.25" r="8.6" fill="#14b43c"/>
<path d="M1095 897V948.75" stroke-width="1.7"/>
<circle cx="1095" cy="923" r="8.6" fill="#14b43c"/>
<path d="M1099.25 934.5V955" stroke-width="1.7"/>
<circle cx="1099.25" cy="934.5" r="8.6" fill="#14b43c"/>
<path d="M1096.25 960.5V1000.5" stroke-width="1.7"/>
<circle cx="1096.25" cy="980.5" r="8.6" fill="#14b43c"/>
<path d="M1286.25 810.75V822.5" stroke-width="1.7"/>
<circle cx="1286.25" cy="810.75" r="8.6" fill="#14b43c"/>
<path d="M1347.75 783.75V794.5" stroke-width="1.7"/>
<circle cx="1347.75" cy="794.5" r="8.6" fill="#14b43c"/>
<path d="M1368.25 800.5V812.5" stroke-width="1.7"/>
<circle cx="1368.25" cy="800.5" r="8.6" fill="#14b43c"/>
<path d="M1368.25 820V841.25" stroke-width="1.7"/>
<circle cx="1368.25" cy="830" r="8.6" fill="#14b43c"/>
</g>
<path fill="none" stroke="#111" stroke-width="1.5" d="M943.8 676.67h9.9M943.8 724.34h9.9M943.8 772.01h9.9M943.8 819.68h9.9M943.8 867.35h9.9M943.8 915.02h9.9M943.8 962.69h9.9M943.8 1010.36h9.9M943.8 1058.03h9.9M1026.5 1104.05v-10.8M1075.31 1104.05v-10.8M1109.94 1104.05v-10.8M1136.8 1104.05v-10.8M1158.75 1104.05v-10.8M1177.31 1104.05v-10.8M1193.39 1104.05v-10.8M1207.57 1104.05v-10.8M1220.25 1104.05v-13.2M1303.7 1104.05v-10.8M1352.51 1104.05v-10.8M1387.14 1104.05v-10.8M1414 1104.05v-10.8M1435.95 1104.05v-10.8M1454.51 1104.05v-10.8M1470.59 1104.05v-10.8M1484.77 1104.05v-10.8M1497.45 1104.05v-13.2M1580.9 1104.05v-10.8M1629.71 1104.05v-10.8M1664.34 1104.05v-10.8"/>
<rect x="942.15" y="629" width="751.25" height="476.7" fill="none" stroke="#111" stroke-width="3.9"/>
</g>
<g id="panel-e">
<g stroke="#111" stroke-width="1.7" stroke-linejoin="miter">
<path d="M114.75 1445.5L123.45 1461.85L106.05 1461.85Z" fill="#161616"/>
<path d="M86.75 1465V1540" stroke-width="1.7"/>
<path d="M86.75 1496.5L95.45 1512.85L78.05 1512.85Z" fill="#161616"/>
<path d="M89 1465V1540" stroke-width="1.7"/>
<path d="M89 1496.5L97.7 1512.85L80.3 1512.85Z" fill="#161616"/>
<path d="M135 1471.25V1497.5" stroke-width="1.7"/>
<path d="M135 1489L143.7 1505.35L126.3 1505.35Z" fill="#e5148c"/>
<path d="M142.5 1574L151.2 1590.35L133.8 1590.35Z" fill="#e5148c"/>
<path d="M146.25 1564L154.95 1580.35L137.55 1580.35Z" fill="#e5148c"/>
<path d="M135 1592.75L143.7 1609.1L126.3 1609.1Z" fill="#e5148c"/>
<path d="M147.5 1587.5V1601.25" stroke-width="1.7"/>
<path d="M147.5 1592.75L156.2 1609.1L138.8 1609.1Z" fill="#e5148c"/>
<path d="M133.75 1496.5L142.45 1512.85L125.05 1512.85Z" fill="#f0690f"/>
<path d="M140.5 1478.75V1496.25" stroke-width="1.7"/>
<path d="M140.5 1487.75L149.2 1504.1L131.8 1504.1Z" fill="#f0690f"/>
<path d="M132.5 1506.5L141.2 1522.85L123.8 1522.85Z" fill="#f0690f"/>
<path d="M143.75 1505.25L152.45 1521.6L135.05 1521.6Z" fill="#f0690f"/>
<path d="M170 1482.5V1501.25" stroke-width="1.7"/>
<path d="M170 1492.75L178.7 1509.1L161.3 1509.1Z" fill="#f0690f"/>
<path d="M170 1533.75V1548.75" stroke-width="1.7"/>
<path d="M170 1525.25L178.7 1541.6L161.3 1541.6Z" fill="#f0690f"/>
<path d="M127.5 1538.75V1552.5" stroke-width="1.7"/>
<path d="M127.5 1530.25L136.2 1546.6L118.8 1546.6Z" fill="#f0690f"/>
<path d="M190.75 1568.75V1593.75" stroke-width="1.7"/>
<path d="M190.75 1573.5L199.45 1589.85L182.05 1589.85Z" fill="#f0690f"/>
<path d="M123.75 1385V1427" stroke-width="1.7"/>
<path d="M123.75 1399L132.45 1415.35L115.05 1415.35Z" fill="#fbb822"/>
<path d="M114.5 1423.75V1475" stroke-width="1.7"/>
<path d="M114.5 1444.75L123.2 1461.1L105.8 1461.1Z" fill="#fbb822"/>
<path d="M151.75 1481.25V1513.75" stroke-width="1.7"/>
<path d="M151.75 1491.5L160.45 1507.85L143.05 1507.85Z" fill="#fbb822"/>
<path d="M741.75 1472.5V1483.75" stroke-width="1.7"/>
<path d="M741.75 1464L750.45 1480.35L733.05 1480.35Z" fill="#fbb822"/>
<path d="M741.75 1448.75V1463.75" stroke-width="1.7"/>
<path d="M741.75 1455.25L750.45 1471.6L733.05 1471.6Z" fill="#fbb822"/>
<rect x="676.45" y="1508.95" width="17.1" height="17.1" fill="#f8e21c"/>
<rect x="667.2" y="1518.95" width="17.1" height="17.1" fill="#f8e21c"/>
<rect x="637.7" y="1527.95" width="17.1" height="17.1" fill="#f8e21c"/>
<rect x="637.7" y="1525.7" width="17.1" height="17.1" fill="#f8e21c"/>
<rect x="731.45" y="1503.95" width="17.1" height="17.1" fill="#f8e21c"/>
<rect x="403.95" y="1270.2" width="17.1" height="17.1" fill="#18a0d8"/>
<path d="M412.5 1290V1305" stroke-width="1.7"/>
<rect x="403.95" y="1281.45" width="17.1" height="17.1" fill="#18a0d8"/>
<path d="M377.5 1282V1302" stroke-width="1.7"/>
<rect x="368.95" y="1283.2" width="17.1" height="17.1" fill="#18a0d8"/>
<path d="M398.25 1298V1321.25" stroke-width="1.7"/>
<rect x="389.7" y="1300.2" width="17.1" height="17.1" fill="#18a0d8"/>
<path d="M333 1290.75V1302.5" stroke-width="1.7"/>
<rect x="324.45" y="1293.95" width="17.1" height="17.1" fill="#18a0d8"/>
<path d="M340.5 1327.5V1340" stroke-width="1.7"/>
<rect x="331.95" y="1318.95" width="17.1" height="17.1" fill="#18a0d8"/>
<path d="M333 1323.25V1340" stroke-width="1.7"/>
<rect x="324.45" y="1314.7" width="17.1" height="17.1" fill="#18a0d8"/>
<path d="M235 1292.5V1320" stroke-width="1.7"/>
<rect x="226.45" y="1297.7" width="17.1" height="17.1" fill="#18a0d8"/>
<path d="M254.5 1293.75V1314.5" stroke-width="1.7"/>
<rect x="245.95" y="1295.2" width="17.1" height="17.1" fill="#18a0d8"/>
<path d="M229.25 1321.25V1348.75" stroke-width="1.7"/>
<rect x="220.7" y="1326.45" width="17.1" height="17.1" fill="#18a0d8"/>
<path d="M145 1326.25V1342" stroke-width="1.7"/>
<rect x="136.45" y="1333.45" width="17.1" height="17.1" fill="#18a0d8"/>
<path d="M142.5 1353.75V1388.75" stroke-width="1.7"/>
<rect x="133.95" y="1362.2" width="17.1" height="17.1" fill="#18a0d8"/>
<path d="M160 1352.5V1369.25" stroke-width="1.7"/>
<rect x="151.45" y="1360.7" width="17.1" height="17.1" fill="#18a0d8"/>
<path d="M160 1382.5V1397" stroke-width="1.7"/>
<rect x="151.45" y="1373.95" width="17.1" height="17.1" fill="#18a0d8"/>
<path d="M493 1287V1308.75" stroke-width="1.7"/>
<rect x="484.45" y="1288.95" width="17.1" height="17.1" fill="#18a0d8"/>
<path d="M462.5 1296.25V1318" stroke-width="1.7"/>
<rect x="453.95" y="1298.95" width="17.1" height="17.1" fill="#a0d416"/>
<rect x="453.95" y="1342.7" width="17.1" height="17.1" fill="#a0d416"/>
<rect x="470.2" y="1355.2" width="17.1" height="17.1" fill="#a0d416"/>
<rect x="470.2" y="1346.45" width="17.1" height="17.1" fill="#a0d416"/>
<rect x="501.95" y="1296.45" width="17.1" height="17.1" fill="#a0d416"/>
<path d="M704.25 1367V1377.5" stroke-width="1.7"/>
<rect x="695.7" y="1358.45" width="17.1" height="17.1" fill="#a0d416"/>
<rect x="271.45" y="1409.45" width="17.1" height="17.1" fill="#3c289e"/>
<path d="M273.75 1397.5V1407.5" stroke-width="1.7"/>
<rect x="265.2" y="1398.95" width="17.1" height="17.1" fill="#3c289e"/>
<rect x="251.45" y="1427.7" width="17.1" height="17.1" fill="#3c289e"/>
<path d="M256.25 1417.5V1428.75" stroke-width="1.7"/>
<rect x="247.7" y="1420.2" width="17.1" height="17.1" fill="#3c289e"/>
<rect x="265.2" y="1425.7" width="17.1" height="17.1" fill="#3c289e"/>
<rect x="216.45" y="1432.7" width="17.1" height="17.1" fill="#3c289e"/>
<rect x="218.45" y="1426.45" width="17.1" height="17.1" fill="#3c289e"/>
<path d="M227 1457V1470" stroke-width="1.7"/>
<rect x="218.45" y="1448.45" width="17.1" height="17.1" fill="#3c289e"/>
<path d="M275 1450V1460.5" stroke-width="1.7"/>
<rect x="266.45" y="1441.45" width="17.1" height="17.1" fill="#3c289e"/>
<path d="M212 1456.25V1478.75" stroke-width="1.7"/>
<rect x="203.45" y="1458.45" width="17.1" height="17.1" fill="#3c289e"/>
<path d="M246.25 1475.5V1486.25" stroke-width="1.7"/>
<rect x="237.7" y="1466.95" width="17.1" height="17.1" fill="#3c289e"/>
<path d="M330.5 1480V1507.5" stroke-width="1.7"/>
<rect x="321.95" y="1484.45" width="17.1" height="17.1" fill="#3c289e"/>
<rect x="370.2" y="1410.2" width="17.1" height="17.1" fill="#3c289e"/>
<path d="M182 1350V1360.75" stroke-width="1.7"/>
<circle cx="182" cy="1360.75" r="8.6" fill="#8c8c8c"/>
<circle cx="180" cy="1375.75" r="8.6" fill="#8c8c8c"/>
<path d="M182 1384.25V1398" stroke-width="1.7"/>
<circle cx="182" cy="1384.25" r="8.6" fill="#8c8c8c"/>
<circle cx="136.25" cy="1535" r="8.6" fill="#a6683a"/>
<circle cx="141.25" cy="1548.75" r="8.6" fill="#a6683a"/>
<path d="M148.75 1537.5V1555.75" stroke-width="1.7"/>
<circle cx="148.75" cy="1555.75" r="8.6" fill="#a6683a"/>
<path d="M145 1611.25V1630" stroke-width="1.7"/>
<circle cx="145" cy="1611.25" r="8.6" fill="#a6683a"/>
<path d="M136.75 1616.75V1635.75" stroke-width="1.7"/>
<circle cx="136.75" cy="1616.75" r="8.6" fill="#a6683a"/>
<path d="M299.5 1425.5V1437" stroke-width="1.7"/>
<circle cx="299.5" cy="1425.5" r="8.6" fill="#14b43c"/>
<path d="M248.75 1443.25V1454.5" stroke-width="1.7"/>
<circle cx="248.75" cy="1443.25" r="8.6" fill="#14b43c"/>
<path d="M352.5 1421.25V1443.75" stroke-width="1.7"/>
<circle cx="352.5" cy="1432" r="8.6" fill="#14b43c"/>
<path d="M352.5 1451.25V1472.5" stroke-width="1.7"/>
<circle cx="352.5" cy="1461.75" r="8.6" fill="#14b43c"/>
<path d="M97.5 1441.25V1465.5" stroke-width="1.7"/>
<circle cx="97.5" cy="1465.5" r="8.6" fill="#14b43c"/>
<path d="M101.25 1448.75V1469.25" stroke-width="1.7"/>
<circle cx="101.25" cy="1469.25" r="8.6" fill="#14b43c"/>
<path d="M95.75 1496.25V1520" stroke-width="1.7"/>
<circle cx="95.75" cy="1496.25" r="8.6" fill="#14b43c"/>
<path d="M97 1565.75V1587.5" stroke-width="1.7"/>
<circle cx="97" cy="1565.75" r="8.6" fill="#14b43c"/>
<path d="M95.75 1530V1555.5" stroke-width="1.7"/>
<circle cx="95.75" cy="1555.5" r="8.6" fill="#14b43c"/>
<path d="M103.25 1593.75V1633.25" stroke-width="1.7"/>
<circle cx="103.25" cy="1613.75" r="8.6" fill="#14b43c"/>
</g>
<path fill="none" stroke="#111" stroke-width="1.5" d="M84.15 1307.56h12.6M84.15 1355.62h12.6M84.15 1403.68h12.6M84.15 1451.74h12.6M84.15 1499.8h12.6M84.15 1547.86h12.6M84.15 1595.92h12.6M84.15 1643.98h12.6M84.15 1692.04h12.6M176.93 1738.15v-10.6M271.35 1738.15v-10.6M365.77 1738.15v-10.6M460.2 1738.15v-10.6M554.62 1738.15v-10.6M649.05 1738.15v-10.6M743.47 1738.15v-10.6"/>
<rect x="82.5" y="1260" width="755.4" height="479.8" fill="none" stroke="#111" stroke-width="3.9"/>
</g>
<g id="ticklabels">
<text x="63" y="24.5" font-size="32.5" text-anchor="end">12</text>
<text x="65.3" y="118" font-size="32.5" text-anchor="end">8</text>
<text x="65.3" y="215.7" font-size="32.5" text-anchor="end">4</text>
<text x="65.3" y="311" font-size="32.5" text-anchor="end">0</text>
<text x="63.3" y="401" font-size="32.5" text-anchor="end">-4</text>
<text x="63.7" y="499.8" font-size="32.5" text-anchor="end">-8</text>
<text x="79.05" y="527.2" font-size="32.5" text-anchor="middle">0</text>
<text x="186.61" y="527.2" font-size="32.5" text-anchor="middle">10</text>
<text x="294.16" y="527.2" font-size="32.5" text-anchor="middle">20</text>
<text x="401.72" y="527.2" font-size="32.5" text-anchor="middle">30</text>
<text x="509.28" y="527.2" font-size="32.5" text-anchor="middle">40</text>
<text x="616.84" y="527.2" font-size="32.5" text-anchor="middle">50</text>
<text x="724.39" y="527.2" font-size="32.5" text-anchor="middle">60</text>
<text x="831.95" y="527.2" font-size="32.5" text-anchor="middle">70</text>
<text x="921.7" y="25.3" font-size="32.5" text-anchor="end">12</text>
<text x="924.2" y="119.2" font-size="32.5" text-anchor="end">8</text>
<text x="923.75" y="216.7" font-size="32.5" text-anchor="end">4</text>
<text x="924.4" y="312.2" font-size="32.5" text-anchor="end">0</text>
<text x="921.75" y="400.6" font-size="32.5" text-anchor="end">-4</text>
<text x="922.3" y="500.3" font-size="32.5" text-anchor="end">-8</text>
<text x="940.1" y="527.6" font-size="32.5" text-anchor="middle">0</text>
<text x="1085.56" y="527.6" font-size="32.5" text-anchor="middle">0.1</text>
<text x="1235.52" y="527.6" font-size="32.5" text-anchor="middle">0.2</text>
<text x="1385.48" y="527.6" font-size="32.5" text-anchor="middle">0.3</text>
<text x="1535.44" y="527.6" font-size="32.5" text-anchor="middle">0.4</text>
<text x="1685.4" y="527.6" font-size="32.5" text-anchor="middle">0.5</text>
<text x="63.8" y="642.5" font-size="32.5" text-anchor="end">12</text>
<text x="65" y="737" font-size="32.5" text-anchor="end">8</text>
<text x="65" y="834.3" font-size="32.5" text-anchor="end">4</text>
<text x="65.5" y="930" font-size="32.5" text-anchor="end">0</text>
<text x="64" y="1018.7" font-size="32.5" text-anchor="end">-4</text>
<text x="63.7" y="1112.9" font-size="32.5" text-anchor="end">-8</text>
<text x="82.5" y="1146.7" font-size="32.5" text-anchor="middle">45</text>
<text x="187.27" y="1146.7" font-size="32.5" text-anchor="middle">50</text>
<text x="295.54" y="1146.7" font-size="32.5" text-anchor="middle">55</text>
<text x="401.81" y="1146.7" font-size="32.5" text-anchor="middle">60</text>
<text x="510.09" y="1146.7" font-size="32.5" text-anchor="middle">65</text>
<text x="616.36" y="1146.7" font-size="32.5" text-anchor="middle">70</text>
<text x="725.13" y="1146.7" font-size="32.5" text-anchor="middle">75</text>
<text x="831.9" y="1146.7" font-size="32.5" text-anchor="middle">80</text>
<text x="930.7" y="641.9" font-size="32.5" text-anchor="end">12</text>
<text x="932.6" y="736" font-size="32.5" text-anchor="end">8</text>
<text x="932.65" y="833" font-size="32.5" text-anchor="end">4</text>
<text x="933.3" y="928.6" font-size="32.5" text-anchor="end">0</text>
<text x="930.85" y="1017" font-size="32.5" text-anchor="end">-4</text>
<text x="931.2" y="1112.8" font-size="32.5" text-anchor="end">-8</text>
<text x="945" y="1144.4" font-size="32.5" text-anchor="middle">0.1</text>
<text x="1221.5" y="1145" font-size="32.5" text-anchor="middle">1</text>
<text x="1498.5" y="1145" font-size="32.5" text-anchor="middle">10</text>
<text x="69.5" y="1276.4" font-size="32.5" text-anchor="end">12</text>
<text x="71" y="1371.7" font-size="32.5" text-anchor="end">8</text>
<text x="71.35" y="1468.5" font-size="32.5" text-anchor="end">4</text>
<text x="72.3" y="1564.4" font-size="32.5" text-anchor="end">0</text>
<text x="69.25" y="1652.2" font-size="32.5" text-anchor="end">-4</text>
<text x="68.9" y="1751" font-size="32.5" text-anchor="end">-8</text>
<text x="82.5" y="1781.5" font-size="32.5" text-anchor="middle">0</text>
<text x="174.43" y="1781.5" font-size="32.5" text-anchor="middle">0.2</text>
<text x="269.35" y="1781.5" font-size="32.5" text-anchor="middle">0.4</text>
<text x="363.77" y="1781.5" font-size="32.5" text-anchor="middle">0.6</text>
<text x="461.2" y="1781.5" font-size="32.5" text-anchor="middle">0.8</text>
<text x="554.62" y="1781.5" font-size="32.5" text-anchor="middle">1</text>
<text x="647.05" y="1781.5" font-size="32.5" text-anchor="middle">1.2</text>
<text x="740.97" y="1781.5" font-size="32.5" text-anchor="middle">1.4</text>
<text x="835.4" y="1781.5" font-size="32.5" text-anchor="middle">1.6</text>
</g>
<g id="titles">
<text x="456.5" y="569" font-size="32.5" text-anchor="middle">B/Be</text>
<text x="1259" y="577.4" font-size="32.5">Cl/K<tspan font-size="21" dy="8" dx="0.5">2</tspan><tspan dy="-8" dx="1">O</tspan></text>
<text x="381.5" y="1192.5" font-size="32.5">SiO<tspan font-size="21" dy="8" dx="1">2</tspan><tspan dy="-8" dx="9">(wt%)</tspan></text>
<text x="1311.5" y="1185" font-size="32.5" text-anchor="middle">Ba/Sr</text>
<text x="472.5" y="1827.5" font-size="32.5" text-anchor="middle">Rb/Sr</text>
<g transform="translate(31.8 325.3) rotate(-90)"><text font-size="32.5"><tspan x="0" y="0">δ</tspan><tspan x="22.8" y="-21" font-size="13">11</tspan><tspan x="40.5" y="0">B</tspan><tspan x="72.2" y="0">(</tspan><tspan x="89.5" y="0">‰</tspan><tspan x="124.3" y="0">)</tspan></text></g>
<g transform="translate(889.5 321.4) rotate(-90)"><text font-size="32.5"><tspan x="0" y="0">δ</tspan><tspan x="22.8" y="-21" font-size="13">11</tspan><tspan x="40.5" y="0">B</tspan><tspan x="72.2" y="0">(</tspan><tspan x="88.1" y="0">‰</tspan><tspan x="122.8" y="0">)</tspan></text></g>
<g transform="translate(31.8 938.8) rotate(-90)"><text font-size="32.5"><tspan x="0" y="0">δ</tspan><tspan x="22.8" y="-21" font-size="13">11</tspan><tspan x="40.5" y="0">B</tspan><tspan x="72.2" y="0">(</tspan><tspan x="92" y="0">‰</tspan><tspan x="121.6" y="0">)</tspan></text></g>
<g transform="translate(893.6 939.9) rotate(-90)"><text font-size="32.5"><tspan x="0" y="0">δ</tspan><tspan x="22.8" y="-21" font-size="13">11</tspan><tspan x="40.5" y="0">B</tspan><tspan x="72.2" y="0">(</tspan><tspan x="92.1" y="0">‰</tspan><tspan x="122.1" y="0">)</tspan></text></g>
<g transform="translate(34.2 1569.6) rotate(-90)"><text font-size="32.5"><tspan x="0" y="0">δ</tspan><tspan x="22.2" y="0" font-size="13.4">11</tspan><tspan x="39" y="0">B</tspan><tspan x="67.7" y="0">(</tspan><tspan x="90" y="0">‰</tspan><tspan x="120.7" y="0">)</tspan></text></g>
</g>
<g id="letters" font-size="49">
<text x="753.8" y="62" font-size="51" text-anchor="start">(a)</text>
<text x="1611.5" y="62" font-size="51" text-anchor="start">(b)</text>
<text x="101" y="679.5" font-size="51" text-anchor="start">(c)</text>
<text x="961" y="681.5" font-size="51" text-anchor="start">(d)</text>
<text x="761" y="1314.5" font-size="51" text-anchor="start">(e)</text>
</g>
<g id="legend">
<rect x="1373.3" y="1209" width="319.4" height="455.7" fill="#fff" stroke="#111" stroke-width="1.7"/>
<g stroke="#111" stroke-width="1.9">
<path d="M1443 1230.2L1453.5 1250.8L1432.5 1250.8Z" fill="#e5148c"/>
<path d="M1443 1263L1453.5 1283.8L1432.5 1283.8Z" fill="#f0690f"/>
<path d="M1443 1299.5L1453.5 1320.8L1432.5 1320.8Z" fill="#161616"/>
<path d="M1443 1334L1455.5 1359.8L1430.5 1359.8Z" fill="#fbb822"/>
<rect x="1431.9" y="1388.2" width="22.2" height="22.2" fill="#18a0d8"/>
<rect x="1431.9" y="1423.9" width="22.2" height="22.2" fill="#a0d416"/>
<rect x="1431.9" y="1459.7" width="22.2" height="22.2" fill="#3c289e"/>
<rect x="1431.9" y="1494.9" width="22.2" height="22.2" fill="#f8e21c"/>
<circle cx="1443" cy="1559.6" r="11.1" fill="#8c8c8c"/>
<circle cx="1443" cy="1596" r="11.1" fill="#a6683a"/>
<circle cx="1443" cy="1632.5" r="11.1" fill="#14b43c"/>
</g>
<text x="1465" y="1249.6" font-size="31.6" text-anchor="start">Statia</text>
<text x="1465" y="1285.4" font-size="31.6" text-anchor="start">St. Kitts</text>
<text x="1465" y="1321.5" font-size="31.6" text-anchor="start">Redonda</text>
<text x="1465" y="1356.9" font-size="31.6" text-anchor="start">Montserrat</text>
<text x="1465" y="1408.5" font-size="31.6" text-anchor="start">Guadeloupe</text>
<text x="1465" y="1444.3" font-size="31.6" text-anchor="start">Dominica</text>
<text x="1465" y="1480.3" font-size="31.6" text-anchor="start">Martinique</text>
<text x="1465" y="1516" font-size="31.6" text-anchor="start">St. Lucia</text>
<text x="1465" y="1571" font-size="31.6" text-anchor="start">St. Vincent</text>
<text x="1465" y="1607" font-size="31.6" text-anchor="start">Petite Mustique</text>
<text x="1465" y="1642.5" font-size="31.6" text-anchor="start">Grenada</text>
<text transform="translate(1418 1295) rotate(-90)" font-size="32" text-anchor="middle">north</text>
<text transform="translate(1418 1456) rotate(-90)" font-size="32" text-anchor="middle">central</text>
<text transform="translate(1418 1599.7) rotate(-90)" font-size="32" text-anchor="middle">south</text>
</g>
</svg></body></html>
